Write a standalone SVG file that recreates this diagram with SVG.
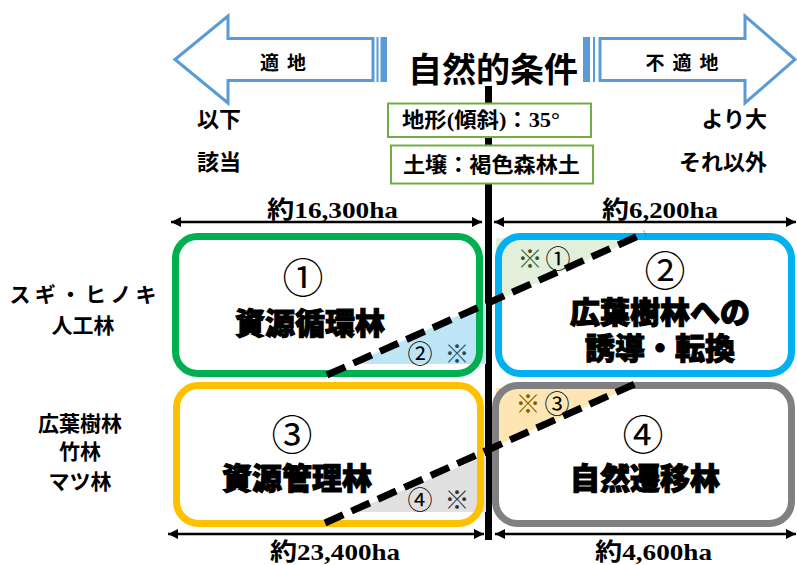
<svg xmlns="http://www.w3.org/2000/svg" width="797" height="565" viewBox="0 0 797 565">
<defs>
<marker id="ah" viewBox="0 0 10 10" refX="10" refY="5" markerWidth="4.5" markerHeight="4" orient="auto-start-reverse" markerUnits="strokeWidth"><path d="M0,0 L10,5 L0,10 Z" fill="#000"/></marker>
</defs>
<style>
text{font-family:"Noto Sans CJK JP","Noto Sans",sans-serif;fill:#000}
.hd{font-size:22px;font-weight:bold}
.lbl{font-size:21px;font-weight:bold}
.dim{font-family:"Liberation Serif","Noto Sans CJK JP",serif;font-size:24px;font-weight:bold}
.cond{font-family:"Liberation Serif","Noto Sans CJK JP",serif;font-size:21px;font-weight:bold}
.num{font-size:41px;font-weight:normal}
.big{font-size:30px;font-weight:900;stroke:#000;stroke-width:1.1;paint-order:stroke}
.sm{font-size:25px}
.arrow{fill:#fff;stroke:#5B9BD5;stroke-width:3;stroke-linejoin:miter}
.bar{fill:#5B9BD5}
.box{fill:none;stroke-width:7}
.dash{stroke:#000;stroke-width:7;stroke-dasharray:20 9;fill:none}
.dl{stroke:#000;stroke-width:2.5;fill:none}
.al{font-size:19px;font-weight:bold;letter-spacing:8px}
</style>

<g id="arrow-left">
<path class="arrow" d="M175,59.5 L228,16 L228,38.5 L373,38.5 L373,80.5 L228,80.5 L228,103 Z"/>
<rect class="bar" x="376.5" y="37" width="2" height="45"/>
<rect class="bar" x="380.5" y="37" width="6.5" height="45"/>
<text class="al" x="287" y="70" text-anchor="middle">適地</text>
</g>

<g id="arrow-right">
<path class="arrow" d="M795,59.5 L745,16 L745,38.5 L600,38.5 L600,80.5 L745,80.5 L745,103 Z"/>
<rect class="bar" x="583" y="37" width="7" height="45"/>
<rect class="bar" x="593" y="37" width="2" height="45"/>
<text class="al" x="686" y="70" text-anchor="middle">不適地</text>
</g>

<g id="title">
<text x="493" y="82" text-anchor="middle" style="font-size:34px;font-weight:bold">自然的条件</text>
</g>

<g id="connectors">
<line x1="488.5" y1="86" x2="488.5" y2="540" stroke="#000" stroke-width="7"/>
<line class="dl" x1="171" y1="222" x2="482" y2="222" marker-start="url(#ah)" marker-end="url(#ah)"/>
<line class="dl" x1="494" y1="222" x2="796" y2="222" marker-start="url(#ah)" marker-end="url(#ah)"/>
<line class="dl" x1="168" y1="534" x2="484" y2="534" marker-start="url(#ah)" marker-end="url(#ah)"/>
<line class="dl" x1="495" y1="534" x2="796" y2="534" marker-start="url(#ah)" marker-end="url(#ah)"/>
</g>

<g id="cond-slope">
<rect x="388" y="103.5" width="203" height="33.5" fill="#fff" stroke="#70AD47" stroke-width="2"/>
<text class="cond" x="402" y="127" textLength="158" lengthAdjust="spacingAndGlyphs">地形(傾斜)：35°</text>
</g>
<g id="cond-soil">
<rect x="391" y="145.5" width="202" height="38" fill="#fff" stroke="#70AD47" stroke-width="2"/>
<text class="cond" x="403" y="172" textLength="177" lengthAdjust="spacingAndGlyphs">土壌：褐色森林土</text>
</g>

<g id="side-labels">
<text class="hd" x="197" y="127">以下</text>
<text class="hd" x="197" y="170">該当</text>
<text class="hd" x="767" y="127" text-anchor="end">より大</text>
<text class="hd" x="767" y="170" text-anchor="end">それ以外</text>
</g>

<g id="type-labels">
<text class="lbl" x="83" y="302" text-anchor="middle" textLength="147" lengthAdjust="spacing">スギ・ヒノキ</text>
<text class="lbl" x="83" y="333" text-anchor="middle">人工林</text>
<text class="lbl" x="80" y="431" text-anchor="middle">広葉樹林</text>
<text class="lbl" x="80" y="459" text-anchor="middle">竹林</text>
<text class="lbl" x="80" y="489" text-anchor="middle">マツ林</text>
</g>

<g id="areas">
<text class="dim" x="267" y="218" textLength="131" lengthAdjust="spacingAndGlyphs">約16,300ha</text>
<text class="dim" x="602" y="218" textLength="116" lengthAdjust="spacingAndGlyphs">約6,200ha</text>
<text class="dim" x="270" y="560" textLength="130" lengthAdjust="spacingAndGlyphs">約23,400ha</text>
<text class="dim" x="595" y="560" textLength="117" lengthAdjust="spacingAndGlyphs">約4,600ha</text>
</g>

<g id="node1">
<polygon points="352,364 486,364 486,303" fill="#BDE5F6"/>
<rect class="box" x="175.5" y="236.5" width="304" height="137" rx="22" stroke="#00B050"/>
<text class="num" x="303" y="275" text-anchor="middle" dominant-baseline="central">①</text>
<text class="big" x="310" y="334" text-anchor="middle">資源循環林</text>
<text class="sm" x="420" y="352" text-anchor="middle" dominant-baseline="central">②</text>
<text class="sm" x="457" y="352" text-anchor="middle" dominant-baseline="central" style="fill:#1F4E5F">※</text>
</g>

<g id="node2">
<polygon points="496,301 496,238 637,238" fill="#E2EFDA"/>
<rect class="box" x="498.5" y="236.5" width="293" height="137" rx="22" stroke="#00B0F0"/>
<text class="sm" x="530" y="257" text-anchor="middle" dominant-baseline="central" style="fill:#375623">※</text>
<text class="sm" x="558" y="257" text-anchor="middle" dominant-baseline="central">①</text>
<text class="num" x="665" y="268" text-anchor="middle" dominant-baseline="central">②</text>
<text class="big" x="660" y="323" text-anchor="middle">広葉樹林への</text>
<text class="big" x="660" y="359" text-anchor="middle">誘導・転換</text>
</g>

<g id="node3">
<polygon points="350,512 486,512 486,456" fill="#E0E0E0"/>
<rect class="box" x="176.5" y="385.5" width="304" height="138" rx="22" stroke="#FFC000"/>
<text class="num" x="292" y="432" text-anchor="middle" dominant-baseline="central">③</text>
<text class="big" x="297" y="489" text-anchor="middle">資源管理林</text>
<text class="sm" x="420" y="498" text-anchor="middle" dominant-baseline="central">④</text>
<text class="sm" x="457" y="498" text-anchor="middle" dominant-baseline="central" style="fill:#333">※</text>
</g>

<g id="node4">
<polygon points="496,446 496,388 628,388" fill="#FDE6B4"/>
<rect class="box" x="495.5" y="385.5" width="296" height="138" rx="22" stroke="#808080"/>
<text class="sm" x="528" y="402" text-anchor="middle" dominant-baseline="central" style="fill:#7F6000">※</text>
<text class="sm" x="557" y="402" text-anchor="middle" dominant-baseline="central">③</text>
<text class="num" x="643" y="432" text-anchor="middle" dominant-baseline="central">④</text>
<text class="big" x="645" y="489" text-anchor="middle">自然遷移林</text>
</g>

<g id="boundaries">
<line class="dash" x1="327" y1="375" x2="645" y2="233"/>
<line class="dash" x1="325" y1="523" x2="637" y2="383"/>
</g>
</svg>
